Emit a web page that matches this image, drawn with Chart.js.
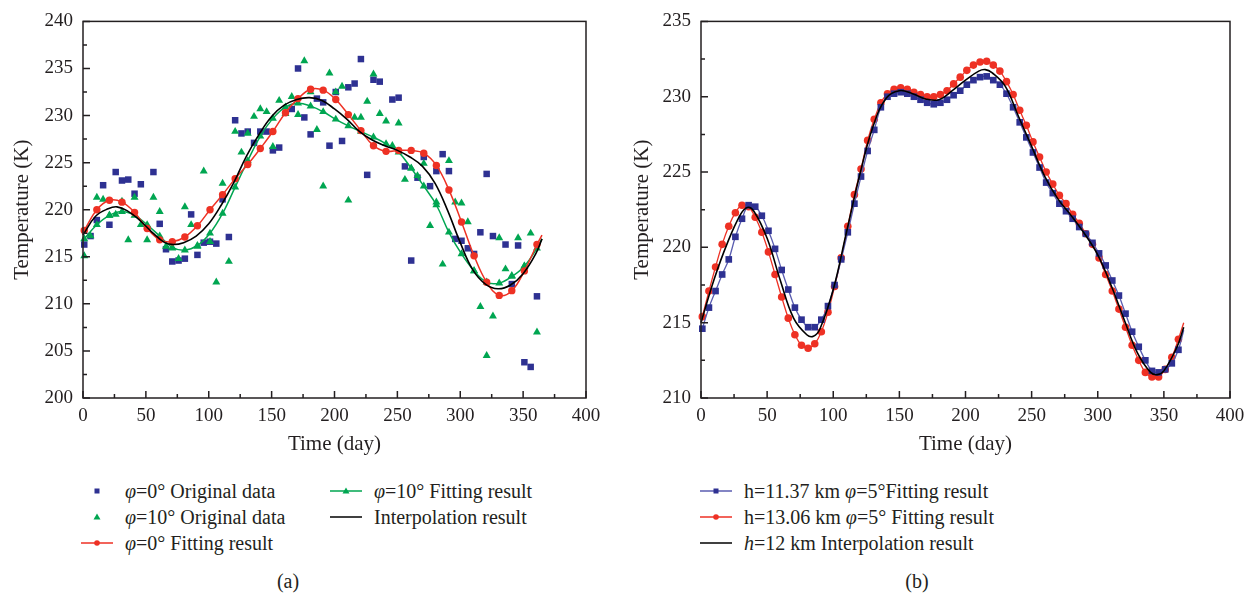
<!DOCTYPE html>
<html>
<head>
<meta charset="utf-8">
<script src="https://cdn.jsdelivr.net/npm/chart.js@4.4.0/dist/chart.umd.min.js"></script>
<style>
  body { margin: 0; background: #fff; }
  #page { position: relative; width: 1257px; height: 599px; overflow: hidden;
          font-family: "Liberation Serif", "Times New Roman", serif; color: #231f20; }
  .panel { position: absolute; top: 0; }
  .leg { position: absolute; height: 26px; display: flex; align-items: center;
         font-size: 20px; white-space: nowrap; }
  .leg svg { flex: none; margin-right: 12px; }
  .cap { position: absolute; top: 570px; font-size: 20px; transform: translateX(-50%); }
</style>
</head>
<body>
<div id="page">
  <div class="panel" style="left:0"><canvas id="chartA" width="610" height="460"></canvas></div>
  <div class="panel" style="left:620px"><canvas id="chartB" width="637" height="460"></canvas></div>

  <!-- legend (a) -->
  <div class="leg" style="left:81px; top:478px">
    <svg width="32" height="10"><rect x="13.5" y="2.5" width="5" height="5" fill="#2e3192"/></svg>
    <span><i>φ</i>=0° Original data</span>
  </div>
  <div class="leg" style="left:81px; top:504px">
    <svg width="32" height="10"><polygon points="16,1.5 19.5,7.5 12.5,7.5" fill="#00a651"/></svg>
    <span><i>φ</i>=10° Original data</span>
  </div>
  <div class="leg" style="left:81px; top:530px">
    <svg width="32" height="10"><line x1="0" y1="5" x2="32" y2="5" stroke="#ee3124" stroke-width="1.5"/><circle cx="16" cy="5" r="2.8" fill="#ee3124"/></svg>
    <span><i>φ</i>=0° Fitting result</span>
  </div>
  <div class="leg" style="left:330px; top:478px">
    <svg width="32" height="10"><line x1="0" y1="5" x2="32" y2="5" stroke="#00a651" stroke-width="1.5"/><polygon points="16,1.5 19.5,7.5 12.5,7.5" fill="#00a651"/></svg>
    <span><i>φ</i>=10° Fitting result</span>
  </div>
  <div class="leg" style="left:330px; top:504px">
    <svg width="32" height="10"><line x1="0" y1="5" x2="32" y2="5" stroke="#000" stroke-width="1.5"/></svg>
    <span>Interpolation result</span>
  </div>
  <div class="cap" style="left:288px">(a)</div>

  <!-- legend (b) -->
  <div class="leg" style="left:700px; top:478px">
    <svg width="32" height="10"><line x1="0" y1="5" x2="32" y2="5" stroke="#5a5db0" stroke-width="1.5"/><rect x="13.5" y="2.5" width="5" height="5" fill="#2e3192"/></svg>
    <span>h=11.37 km <i>φ</i>=5°Fitting result</span>
  </div>
  <div class="leg" style="left:700px; top:504px">
    <svg width="32" height="10"><line x1="0" y1="5" x2="32" y2="5" stroke="#ee3124" stroke-width="1.5"/><circle cx="16" cy="5" r="2.8" fill="#ee3124"/></svg>
    <span>h=13.06 km <i>φ</i>=5° Fitting result</span>
  </div>
  <div class="leg" style="left:700px; top:530px">
    <svg width="32" height="10"><line x1="0" y1="5" x2="32" y2="5" stroke="#000" stroke-width="1.5"/></svg>
    <span><i>h</i>=12 km Interpolation result</span>
  </div>
  <div class="cap" style="left:917px">(b)</div>
</div>

<script>
// ---- Panel (a) data ----
// phi = 0 deg original data
const origDays0 = [1, 6, 11, 16, 21, 26, 31, 36, 41, 46, 56, 61, 66, 71, 76, 81, 86, 91, 96, 101,
  106, 111, 116, 121, 126, 131, 136, 141, 146, 151, 156, 166, 171, 176, 181, 186, 191, 196, 201, 206,
  211, 216, 221, 226, 231, 236, 246, 251, 256, 261, 266, 271, 276, 281, 286, 291, 296, 301, 306, 311,
  316, 321, 326, 336, 341, 346, 351, 356, 361];
const origTemp0 = [216.3, 217.2, 218.9, 222.6, 218.4, 224.0, 223.1, 223.2, 221.7, 222.7, 224.0, 218.5, 215.8, 214.5, 214.6, 214.8, 219.5, 215.2, 216.5, 216.6,
  216.4, 221.1, 217.1, 229.5, 228.1, 228.3, 227.1, 228.3, 228.3, 226.3, 226.6, 230.7, 235.0, 229.8, 228.0, 231.8, 231.4, 226.8, 232.5, 227.3,
  233.0, 233.4, 236.0, 223.7, 233.8, 233.6, 231.7, 231.9, 224.6, 214.6, 223.4, 225.6, 222.5, 224.1, 225.9, 224.1, 216.9, 216.7, 215.9, 215.3,
  217.6, 223.8, 217.2, 216.3, 212.1, 216.2, 203.8, 203.3, 210.8];

// phi = 10 deg original data
const origDays10 = [1, 6, 11, 16, 21, 26, 31, 36, 41, 46, 51, 56, 61, 66, 71, 76, 81, 86, 91, 96,
  101, 106, 111, 116, 121, 126, 131, 136, 141, 146, 151, 156, 161, 166, 171, 176, 181, 186, 191, 196,
  201, 206, 211, 216, 221, 226, 231, 236, 241, 246, 251, 256, 261, 266, 271, 276, 281, 286, 291, 296,
  301, 306, 311, 316, 321, 326, 331, 336, 341, 346, 351, 356, 361];
const origTemp10 = [215.1, 217.2, 221.3, 221.1, 219.4, 219.5, 220.9, 216.8, 221.3, 218.4, 216.8, 221.3, 219.8, 216.1, 215.9, 214.8, 220.3, 218.4, 216.1, 224.1,
  216.6, 212.3, 222.8, 214.5, 228.3, 226.1, 228.1, 229.9, 230.7, 230.4, 226.7, 231.6, 230.2, 232.0, 230.1, 235.8, 232.5, 228.5, 222.5, 234.5,
  232.5, 233.1, 221.0, 229.8, 229.8, 231.5, 234.4, 230.2, 229.4, 226.8, 229.2, 223.2, 224.4, 223.6, 224.9, 218.3, 220.8, 214.2, 225.2, 220.8,
  220.7, 218.7, 213.5, 209.7, 204.5, 208.7, 217.0, 213.7, 213.0, 217.0, 214.0, 217.5, 207.0];

// fitting results (markers every 10 days, last point is the curve end)
const fitDaysA = [1, 11, 21, 31, 41, 51, 61, 71, 81, 91, 101, 111, 121, 131, 141, 151, 161, 171, 181, 191,
  201, 211, 221, 231, 241, 251, 261, 271, 281, 291, 301, 311, 321, 331, 341, 351, 361, 365];
const fitTemp0 = [217.8, 220.0, 221.0, 220.8, 219.7, 218.0, 216.8, 216.6, 217.1, 218.3, 220.0, 221.6, 223.3, 224.8, 226.5, 228.3, 230.3, 231.8, 232.8, 232.7,
  231.7, 230.1, 228.4, 226.8, 226.2, 226.3, 226.3, 226.0, 224.7, 222.1, 218.7, 215.1, 212.3, 210.9, 211.4, 213.5, 216.3, 217.3];
const fitTemp10 = [216.9, 218.4, 219.4, 219.8, 219.4, 218.4, 217.2, 216.0, 215.7, 216.2, 217.5, 219.6, 222.4, 225.2, 227.8, 229.7, 230.9, 231.3, 231.0, 230.4,
  229.6, 228.9, 228.3, 227.7, 227.0, 226.1, 224.4, 222.5, 220.5, 217.6, 215.3, 213.5, 212.3, 212.2, 212.9, 214.0, 215.9, 216.9];

// interpolation result
const interpDaysA = [0, 10, 20, 27, 35, 45, 55, 65, 72, 80, 90, 100, 110, 120, 130, 140, 150, 160, 170, 180,
  190, 200, 210, 220, 230, 240, 250, 260, 270, 280, 290, 300, 310, 320, 330, 340, 350, 360, 365];
const interpTempA = [217.3, 219.3, 220.1, 220.3, 219.9, 218.9, 217.6, 216.5, 216.3, 216.5, 217.2, 218.5, 220.5, 222.9, 225.7, 228.0, 229.9, 231.1, 231.7, 231.9,
  231.6, 230.7, 229.6, 228.3, 227.4, 226.8, 226.3, 225.6, 224.6, 222.8, 219.9, 216.5, 213.6, 212.1, 211.6, 212.0, 213.2, 215.3, 216.9];

// ---- Panel (b) data ----
const fitDaysB = [1, 6, 11, 16, 21, 26, 31, 36, 41, 46, 51, 56, 61, 66, 71, 76, 81, 86, 91, 96,
  101, 106, 111, 116, 121, 126, 131, 136, 141, 146, 151, 156, 161, 166, 171, 176, 181, 186, 191, 196,
  201, 206, 211, 216, 221, 226, 231, 236, 241, 246, 251, 256, 261, 266, 271, 276, 281, 286, 291, 296,
  301, 306, 311, 316, 321, 326, 331, 336, 341, 346, 351, 356, 361, 365];
// h = 11.37 km
const fitTempH1137 = [214.6, 216.0, 217.1, 218.2, 219.2, 220.7, 221.9, 222.8, 222.7, 222.1, 221.1, 219.9, 218.5, 217.2, 216.0, 215.2, 214.7, 214.7, 215.2, 216.1,
  217.5, 219.2, 221.0, 222.9, 224.7, 226.4, 227.8, 229.3, 230.0, 230.2, 230.3, 230.2, 230.0, 229.8, 229.6, 229.5, 229.6, 229.8, 230.1, 230.4,
  230.8, 231.1, 231.3, 231.35, 231.1, 230.8, 230.2, 229.3, 228.3, 227.3, 226.3, 225.3, 224.3, 223.6, 222.9, 222.4, 221.9, 221.35, 220.9, 220.3,
  219.6, 218.8, 217.8, 216.8, 215.6, 214.4, 213.4, 212.5, 211.8, 211.7, 211.9, 212.3, 213.2, 214.5];
// h = 13.06 km
const fitTempH1306 = [215.4, 217.1, 218.7, 220.2, 221.4, 222.3, 222.8, 222.7, 222.0, 221.0, 219.7, 218.2, 216.7, 215.3, 214.2, 213.5, 213.3, 213.6, 214.4, 215.7,
  217.4, 219.3, 221.4, 223.5, 225.2, 227.1, 228.5, 229.6, 230.2, 230.5, 230.6, 230.5, 230.3, 230.15, 230.0, 230.0, 230.15, 230.4, 230.85, 231.3,
  231.75, 232.1, 232.3, 232.35, 232.1, 231.7, 231.0, 230.15, 229.1, 228.1, 227.0, 226.0, 225.0, 224.2, 223.45, 222.9, 222.2, 221.6, 220.9, 220.2,
  219.3, 218.2, 217.1, 215.9, 214.7, 213.5, 212.5, 211.7, 211.4, 211.4, 211.9, 212.7, 213.9, 215.0];
// h = 12 km interpolation
const interpDaysB = [0, 10, 20, 30, 35, 40, 50, 60, 70, 80, 85, 90, 100, 110, 120, 130, 140, 150, 160, 170,
  180, 190, 200, 210, 215, 220, 230, 240, 250, 260, 270, 280, 290, 300, 310, 320, 330, 340, 345, 350, 360, 365];
const interpTempB = [215.0, 217.9, 220.3, 222.2, 222.65, 222.4, 220.6, 217.8, 215.3, 214.2, 214.1, 214.6, 217.2, 221.0, 224.8, 228.0, 229.9, 230.4, 230.2, 229.85,
  229.8, 230.4, 231.1, 231.7, 231.8, 231.6, 230.7, 228.7, 226.7, 224.7, 223.2, 222.1, 220.9, 219.5, 217.5, 215.2, 213.0, 211.7, 211.55, 211.8, 213.4, 214.7];

// ---- styling ----
const NAVY = '#2e3192';
const BLUE_LINE = '#5a5db0';
const RED = '#ee3124';
const GREEN = '#00a651';
const INK = '#231f20';
const SERIF = '"Liberation Serif", "Times New Roman", serif';

const pts = (xs, ys) => xs.map((d, i) => ({ x: d, y: ys[i] }));
// markers on every point except the trailing curve end
const markers = (n, r) => Array.from({ length: n }, (_, i) => (i === n - 1 ? 0 : r));

// Frame box plus inward major/minor ticks
const frameTicks = {
  id: 'frameTicks',
  afterDatasetsDraw(chart) {
    const { ctx, chartArea: a, scales: { x, y } } = chart;
    ctx.save();
    ctx.strokeStyle = INK;
    ctx.lineWidth = 1.5;
    ctx.strokeRect(a.left, a.top, a.right - a.left, a.bottom - a.top);
    ctx.beginPath();
    for (let v = x.min; v <= x.max; v += 25) {
      const px = x.getPixelForValue(v);
      const len = v % 50 === 0 ? 7 : 4;
      ctx.moveTo(px, a.bottom);
      ctx.lineTo(px, a.bottom - len);
    }
    for (let v = y.min; v <= y.max; v += 2.5) {
      const py = y.getPixelForValue(v);
      const len = v % 5 === 0 ? 7 : 4;
      ctx.moveTo(a.left, py);
      ctx.lineTo(a.left + len, py);
    }
    ctx.stroke();
    ctx.restore();
  }
};

function makeOptions(yMin, yMax, yWidth, padRight) {
  return {
    responsive: false,
    animation: false,
    layout: { padding: { left: 0, right: padRight, top: 16, bottom: 0 } },
    plugins: { legend: { display: false }, tooltip: { enabled: false } },
    scales: {
      x: {
        type: 'linear', min: 0, max: 400,
        grid: { display: false, drawTicks: false },
        border: { display: false },
        ticks: { stepSize: 50, padding: 7, color: INK, font: { family: SERIF, size: 19 } },
        title: { display: true, text: 'Time (day)', color: INK,
                 font: { family: SERIF, size: 21 }, padding: { top: 0, bottom: 3 } },
        afterFit: s => { s.height = 62; }
      },
      y: {
        type: 'linear', min: yMin, max: yMax,
        grid: { display: false, drawTicks: false },
        border: { display: false },
        ticks: { stepSize: 5, padding: 10, color: INK, font: { family: SERIF, size: 19 } },
        title: { display: true, text: 'Temperature (K)', color: INK,
                 font: { family: SERIF, size: 21 }, padding: { top: 10, bottom: 0 } },
        afterFit: s => { s.width = yWidth; }
      }
    }
  };
}

// Panel (a)
new Chart(document.getElementById('chartA'), {
  type: 'scatter',
  data: {
    datasets: [
      { label: 'Interpolation result', data: pts(interpDaysA, interpTempA), showLine: true,
        borderColor: '#000', borderWidth: 1.6, tension: 0.4, pointRadius: 0, order: 0, clip: false },
      { label: 'φ=0° Fitting result', data: pts(fitDaysA, fitTemp0), showLine: true,
        borderColor: RED, borderWidth: 1.5, tension: 0.4, pointStyle: 'circle',
        pointRadius: markers(fitDaysA.length, 3.7), pointBackgroundColor: RED, pointBorderWidth: 0,
        order: 1, clip: false },
      { label: 'φ=10° Fitting result', data: pts(fitDaysA, fitTemp10), showLine: true,
        borderColor: GREEN, borderWidth: 1.5, tension: 0.4, pointStyle: 'triangle',
        pointRadius: markers(fitDaysA.length, 4.6), pointBackgroundColor: GREEN, pointBorderWidth: 0,
        order: 2, clip: false },
      { label: 'φ=10° Original data', data: pts(origDays10, origTemp10), showLine: false,
        pointStyle: 'triangle', pointRadius: 4.6, pointBackgroundColor: GREEN, pointBorderWidth: 0,
        order: 3, clip: false },
      { label: 'φ=0° Original data', data: pts(origDays0, origTemp0), showLine: false,
        pointStyle: 'rect', pointRadius: 4.6, pointBackgroundColor: NAVY, pointBorderWidth: 0,
        order: 4, clip: false }
    ]
  },
  options: makeOptions(200, 240, 83, 24),
  plugins: [frameTicks]
});

// Panel (b)
new Chart(document.getElementById('chartB'), {
  type: 'scatter',
  data: {
    datasets: [
      { label: 'h=12 km Interpolation result', data: pts(interpDaysB, interpTempB), showLine: true,
        borderColor: '#000', borderWidth: 1.6, tension: 0.4, pointRadius: 0, order: 0, clip: false },
      { label: 'h=11.37 km φ=5°Fitting result', data: pts(fitDaysB, fitTempH1137), showLine: true,
        borderColor: BLUE_LINE, borderWidth: 1.3, tension: 0.4, pointStyle: 'rect',
        pointRadius: markers(fitDaysB.length, 4.7), pointBackgroundColor: NAVY, pointBorderWidth: 0,
        order: 1, clip: false },
      { label: 'h=13.06 km φ=5° Fitting result', data: pts(fitDaysB, fitTempH1306), showLine: true,
        borderColor: RED, borderWidth: 1.3, tension: 0.4, pointStyle: 'circle',
        pointRadius: markers(fitDaysB.length, 3.8), pointBackgroundColor: RED, pointBorderWidth: 0,
        order: 2, clip: false }
    ]
  },
  options: makeOptions(210, 235, 81, 27),
  plugins: [frameTicks]
});
</script>
</body>
</html>
